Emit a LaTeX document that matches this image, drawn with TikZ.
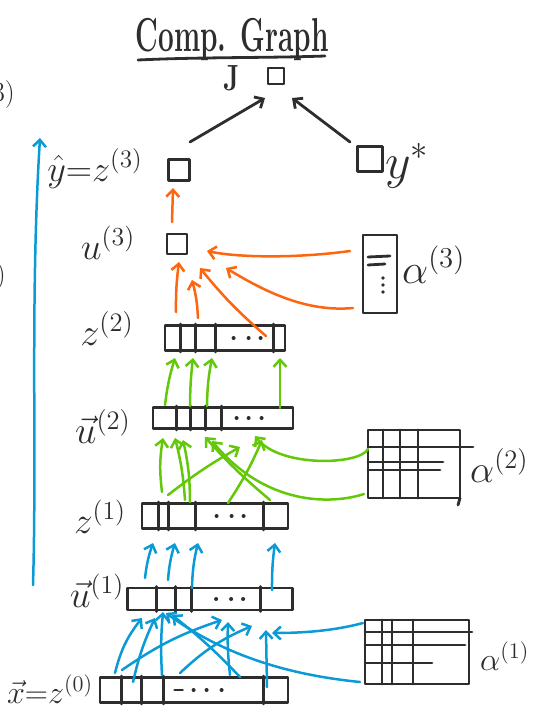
\documentclass[tikz,border=0pt]{standalone}
\usepackage{graphicx}
\usetikzlibrary{arrows.meta,calc}
\definecolor{ink}{RGB}{45,45,45}
\definecolor{org}{RGB}{255,100,15}
\definecolor{grn}{RGB}{100,200,10}
\definecolor{blu}{RGB}{10,155,215}
\newcommand\Lbl[2]{\scalebox{#1}{#2}}
\begin{document}
\begin{tikzpicture}[x=1pt,y=-1pt,line cap=round,line join=round,
  inkline/.style={draw=ink,line width=2.8pt},
  vecbox/.style={draw=ink,line width=2.8pt,rectangle,inner sep=0pt},
  sq/.style={draw=ink,line width=2.8pt,rectangle,inner sep=0pt,minimum size=#1},
  lbl/.style={text=ink,font=\fontsize{20.74}{24}\selectfont,inner sep=0pt},
  arrowhd/.style={-{Straight Barb[length=7pt,width=13pt]}},
  oarr/.style={arrowhd,draw=org,line width=2.5pt},
  garr/.style={arrowhd,draw=grn,line width=2.5pt},
  barr/.style={arrowhd,draw=blu,line width=2.5pt},
  karr/.style={arrowhd,draw=ink,line width=2.8pt}]
\useasboundingbox (0,0) rectangle (537,709);

% ---- title ----
\node[lbl,font=\fontsize{28}{32}\selectfont\bfseries,anchor=base] (title) at (232,52) {\scalebox{1}[1.7]{Comp. Graph}};
\draw[inkline] (138,60) .. controls (200,57) and (270,58) .. (325,56);
\node[lbl,font=\fontsize{28}{32}\selectfont\bfseries,anchor=base] (J) at (232,90) {\scalebox{1}[1.3]{J}};
\node[sq=16pt] (jb) at (276,76) {};

% ---- partial texts at the left edge ----
\node[lbl,font=\fontsize{28}{30}\selectfont,anchor=east] (edge1) at (15,95) {(3)};
\node[lbl,font=\fontsize{28}{30}\selectfont,anchor=east] (edge2) at (6,277) {)};

% ---- output level ----
\node[sq=21pt] (yh) at (179,170) {};
\node[sq=25pt] (ys) at (370,159) {};
\node[lbl,anchor=base] (yhl) at (95,181) {\Lbl{1.75}{$\hat{y}{=}z^{(3)}$}};
\node[lbl,anchor=base west] (ysl) at (385,178) {\Lbl{2.4}{$y^{*}$}};

\node[sq=20pt] (u3) at (177,244) {};
\node[lbl,anchor=base] (u3l) at (108,259) {\Lbl{1.8}{$u^{(3)}$}};

% alpha 3
\node[vecbox,minimum width=34pt,minimum height=78pt] (a3) at (380,274) {};
\draw[inkline] (368,257) -- (390,256);
\draw[inkline] (368,265) -- (385,264);
\foreach \yy in {278,285,292} \fill[ink] (383,\yy) circle (1.8pt);
\node[lbl,anchor=base west] (a3l) at (402,283) {\Lbl{2.0}{$\alpha^{(3)}$}};

% ---- z2 ----
\node[vecbox,minimum width=120pt,minimum height=25pt] (z2) at (225,338) {};
\foreach \d in {17,32,52,110} \draw[inkline] ([xshift=\d pt]z2.north west) -- ([xshift=\d pt]z2.south west);
\foreach \d in {70,85,97} \fill[ink] ([xshift=\d pt]z2.west) circle (2pt);
\node[lbl,anchor=base] (z2l) at (107,345) {\Lbl{1.85}{$z^{(2)}$}};

% ---- u2 ----
\node[vecbox,minimum width=140pt,minimum height=21pt] (u2) at (223,418) {};
\foreach \d in {25,39,54,70} \draw[inkline] ([xshift=\d pt]u2.north west) -- ([xshift=\d pt]u2.south west);
\foreach \d in {85,97,110} \fill[ink] ([xshift=\d pt]u2.west) circle (2pt);
\node[lbl,anchor=base] (u2l) at (103,443) {\Lbl{1.85}{$\vec{u}^{(2)}$}};

% alpha 2
\node[vecbox,minimum width=92pt,minimum height=68pt] (a2) at (414,464) {};
\draw[inkline] (368,447) -- (473,447);
\draw[inkline] (460,498) -- (458,505);
\foreach \xx in {383,400,418} \draw[inkline] (\xx,430) -- (\xx,498);
\draw[inkline] (368,462) -- (443,462);
\draw[inkline] (368,470) -- (440,470);
\node[lbl,anchor=base west] (a2l) at (470,482) {\Lbl{1.85}{$\alpha^{(2)}$}};

% ---- z1 ----
\node[vecbox,minimum width=146pt,minimum height=25pt] (z1) at (215,516) {};
\foreach \d in {18,28,55,123} \draw[inkline] ([xshift=\d pt]z1.north west) -- ([xshift=\d pt]z1.south west);
\foreach \d in {76,91,103} \fill[ink] ([xshift=\d pt]z1.west) circle (2pt);
\node[lbl,anchor=base] (z1l) at (100,533) {\Lbl{1.8}{$z^{(1)}$}};

% ---- u1 ----
\node[vecbox,minimum width=165pt,minimum height=22pt] (u1) at (210,599) {};
\foreach \d in {30,49,65,134} \draw[inkline] ([xshift=\d pt]u1.north west) -- ([xshift=\d pt]u1.south west);
\foreach \d in {90,105,117} \fill[ink] ([xshift=\d pt]u1.west) circle (2pt);
\node[lbl,anchor=base] (u1l) at (97,607) {\Lbl{1.8}{$\vec{u}^{(1)}$}};

% alpha 1
\node[vecbox,minimum width=104pt,minimum height=64pt] (a1) at (417,652) {};
\draw[inkline] (365,632) -- (472,632);
\draw[inkline] (365,645) -- (465,645);
\draw[inkline] (365,663) -- (432,663);
\foreach \xx in {382,392,413} \draw[inkline] (\xx,620) -- (\xx,684);
\node[lbl,anchor=base west] (a1l) at (480,670) {\Lbl{1.55}{$\alpha^{(1)}$}};

% ---- x ----
\node[vecbox,minimum width=188pt,minimum height=25pt] (xv) at (194,690) {};
\foreach \d in {23,43,65,165} \draw[inkline] ([xshift=\d pt]xv.north west) -- ([xshift=\d pt]xv.south west);
\draw[inkline] ([xshift=76pt]xv.west) -- ([xshift=84pt]xv.west);
\foreach \d in {95,108,123} \fill[ink] ([xshift=\d pt]xv.west) circle (2pt);
\node[lbl,anchor=base] (xl) at (50,703) {\Lbl{1.55}{$\vec{x}{=}z^{(0)}$}};

% ---- black arrows ----
\draw[karr] ([shift={(11,-28)}]yh.center) -- ([shift={(-11,22)}]jb.center);
\draw[karr] ([shift={(-20,-17)}]ys.center) -- ([shift={(16,22)}]jb.center);

% ---- orange arrows ----
\draw[oarr] ([shift={(-49,-26)}]z2.center) to[bend left=4] ([shift={(2,18)}]u3.center);
\draw[oarr] ([shift={(-27,-20)}]z2.center) to[bend right=6] ([shift={(15,36)}]u3.center);
\draw[oarr] ([shift={(41,-2)}]z2.center) to[bend left=5] ([shift={(23,24)}]u3.center);
\draw[oarr] ([shift={(-30,-23)}]a3.center) .. controls +(-50,7) and +(33,7) .. ([shift={(30,7)}]u3.center);
\draw[oarr] ([shift={(-27,34)}]a3.center) .. controls +(-43,4) and +(44,27) .. ([shift={(49,24)}]u3.center);
\draw[oarr] ([shift={(-5,-22)}]u3.center) -- ([shift={(-6,18)}]yh.center);

% ---- green arrows u2 -> z2 ----
\draw[garr] ([shift={(-58,-13)}]u2.center) to[bend left=5] ([shift={(-50,20)}]z2.center);
\draw[garr] ([shift={(-33,-12)}]u2.center) to[bend left=3] ([shift={(-32,20)}]z2.center);
\draw[garr] ([shift={(-16,-12)}]u2.center) to[bend left=5] ([shift={(-13,20)}]z2.center);
\draw[garr] ([shift={(57,-10)}]u2.center) -- ([shift={(55,20)}]z2.center);

% ---- green arrows z1 -> u2 ----
\draw[garr] ([shift={(-53,-24)}]z1.center) to[bend left=8] ([shift={(-60,20)}]u2.center);
\draw[garr] ([shift={(-47,-21)}]z1.center) to[bend left=4] ([shift={(17,29)}]u2.center);
\draw[garr] ([shift={(-30,-16)}]z1.center) to[bend right=5] ([shift={(-48,20)}]u2.center);
\draw[garr] ([shift={(-25,-14)}]z1.center) to[bend right=6] ([shift={(-40,22)}]u2.center);
\draw[garr] ([shift={(13,-13)}]z1.center) to[bend right=5] ([shift={(39,22)}]u2.center);
\draw[garr] ([shift={(55,-16)}]z1.center) to[bend left=4] ([shift={(-18,19)}]u2.center);
\draw[garr] ([shift={(-46,-15)}]a2.center) .. controls +(-8,16) and +(25,32) .. ([shift={(32,18)}]u2.center);
\draw[garr] ([shift={(-50,30)}]a2.center) .. controls +(-34,11) and +(53,64) .. ([shift={(-11,23)}]u2.center);

% ---- blue arrows u1 -> z1 ----
\draw[barr] ([shift={(-65,-21)}]u1.center) to[bend left=6] ([shift={(-62,27)}]z1.center);
\draw[barr] ([shift={(-42,-19)}]u1.center) to[bend left=6] ([shift={(-40,27)}]z1.center);
\draw[barr] ([shift={(-18,-11)}]u1.center) to[bend left=6] ([shift={(-17,27)}]z1.center);
\draw[barr] ([shift={(62,-9)}]u1.center) to[bend left=4] ([shift={(60,27)}]z1.center);

% ---- blue arrows x -> u1 ----
\draw[barr] ([shift={(-79,-17)}]xv.center) to[bend left=12] ([shift={(-68,19)}]u1.center);
\draw[barr] ([shift={(-61,-8)}]xv.center) to[bend left=6] ([shift={(-55,19)}]u1.center);
\draw[barr] ([shift={(-32,-15)}]xv.center) to[bend left=4] ([shift={(-47,13)}]u1.center);
\draw[barr] ([shift={(-72,-20)}]xv.center) to[bend left=8] ([shift={(12,21)}]u1.center);
\draw[barr] ([shift={(-14,-17)}]xv.center) to[bend left=10] ([shift={(42,27)}]u1.center);
\draw[barr] ([shift={(36,-15)}]xv.center) to[bend left=4] ([shift={(18,23)}]u1.center);
\draw[barr] ([shift={(73,-3)}]xv.center) -- ([shift={(56,31)}]u1.center);
\draw[barr] ([shift={(46,-13)}]xv.center) to[bend right=4] ([shift={(-38,16)}]u1.center);
\draw[barr] ([shift={(-54,-29)}]a1.center) .. controls +(-30,8) and +(30,0) .. ([shift={(62,34)}]u1.center);
\draw[barr] ([shift={(-57,30)}]a1.center) .. controls +(-60,-6) and +(64,47) .. ([shift={(-44,14)}]u1.center);

% ---- left long arrow ----
\coordinate (lb) at (33,585);
\coordinate (lt) at (40,138);
\draw[barr] (lb) .. controls (37,450) and (30,300) .. (lt);
\end{tikzpicture}
\end{document}
